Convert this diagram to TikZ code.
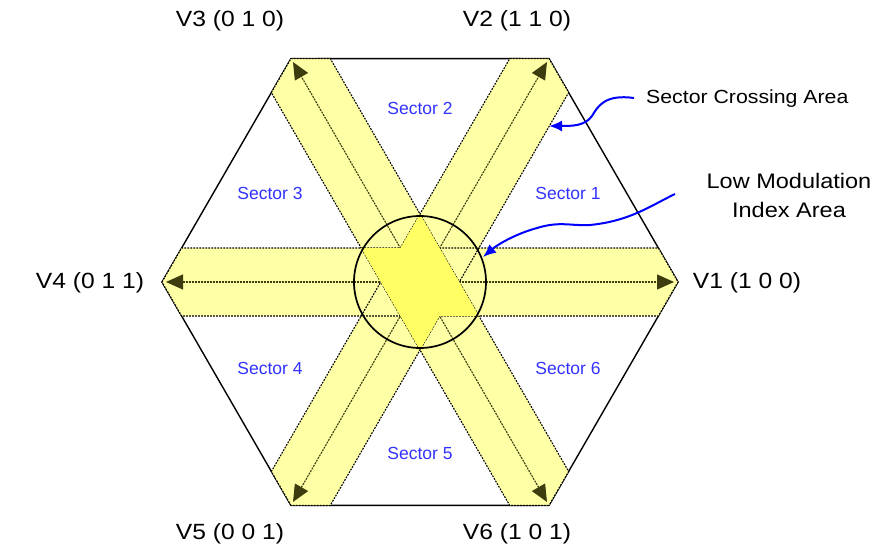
\documentclass[tikz,border=0pt]{standalone}
\usepackage{fontspec}
\setmainfont{Liberation Sans}[FakeStretch=1.12]
\newfontfamily\sectfont{Liberation Sans}
\usetikzlibrary{arrows.meta}
\definecolor{bandfill}{RGB}{255,255,165}
\definecolor{brightfill}{RGB}{255,255,100}
\definecolor{olivedark}{RGB}{60,60,15}
\definecolor{sectblue}{RGB}{50,50,255}
\tikzset{
  hexline/.style={draw=black,line width=1.4pt},
  bandface/.style={fill=bandfill,draw=none},
  bandedge/.style={draw=black,line width=1.1pt,dash pattern=on 1.8pt off 1.2pt},
  axisline/.style={draw=olivedark,line width=1.1pt,dash pattern=on 2pt off 1pt,
    {Triangle[length=17pt,width=15pt,fill=olivedark]}-{Triangle[length=17pt,width=15pt,fill=olivedark]}},
  vlabel/.style={font=\fontsize{22}{26}\selectfont,inner sep=0pt},
  sectlabel/.style={font=\sectfont\fontsize{17.5}{20}\selectfont,text=sectblue,inner sep=0pt},
  notelabel/.style={font=\fontsize{19}{23}\selectfont,inner sep=0pt},
  notelabelB/.style={font=\fontsize{21}{29}\selectfont,inner sep=0pt,align=center},
  bluearrow/.style={draw=blue,line width=2pt,-{Latex[length=13pt,width=11pt]}},
}
\begin{document}
\begin{tikzpicture}[x=1pt,y=-1pt]
\useasboundingbox (0,0) rectangle (876,552);
\coordinate (C) at (420,282);
% hexagon
\draw[hexline] (C) ++(0:258) -- ++(120:258) -- ++(180:258) -- ++(240:258) -- ++(300:258) -- ++(0:258) -- cycle;
% band fills
\foreach \a in {0,60,120}{
  \begin{scope}[shift={(420,282)},rotate=\a]
    \fill[bandface] (-258,0) -- (-238.4,-34) -- (238.4,-34) -- (258,0) -- (238.4,34) -- (-238.4,34) -- cycle;
  \end{scope}
}
% band outlines
\foreach \a in {0,60,120}{
  \begin{scope}[shift={(420,282)},rotate=\a]
    \draw[bandedge] (-258,0) -- (-238.4,-34) -- (238.4,-34) -- (258,0) -- (238.4,34) -- (-238.4,34) -- cycle;
  \end{scope}
}
% axis arrows
\foreach \a/\n in {0/A,60/B,120/D}{
  \begin{scope}[shift={(420,282)},rotate=\a]
    \coordinate (\n1) at (-254,0);
    \coordinate (\n2) at (254,0);
  \end{scope}
  \draw[axisline] (\n1) -- (\n2);
}
% low modulation area
\begin{scope}[shift={(420,282)}]
  \fill[brightfill] (0,-68) -- (58.9,34) -- (19.6,34) -- (0,68) -- (-58.9,-34) -- (-19.6,-34) -- cycle;
\end{scope}
\node[draw=black,line width=1.7pt,circle,minimum size=132pt,inner sep=0pt] (circ) at (C) {};
% vertex labels
\node[vlabel] (v1) at (747,283) {V1 (1 0 0)};
\node[vlabel] (v2) at (517,21) {V2 (1 1 0)};
\node[vlabel] (v3) at (230,21) {V3 (0 1 0)};
\node[vlabel] (v4) at (90,283) {V4 (0 1 1)};
\node[vlabel] (v5) at (230,534) {V5 (0 0 1)};
\node[vlabel] (v6) at (517,534) {V6 (1 0 1)};
% sector labels
\node[sectlabel] (s1) at (568,193) {Sector 1};
\node[sectlabel] (s2) at (420,108) {Sector 2};
\node[sectlabel] (s3) at (270,193) {Sector 3};
\node[sectlabel] (s4) at (270,368) {Sector 4};
\node[sectlabel] (s5) at (420,453) {Sector 5};
\node[sectlabel] (s6) at (568,368) {Sector 6};
% notes
\node[notelabel,anchor=west] (sca) at (646,99) {Sector Crossing Area};
\node[notelabelB] (lmi) at (789,195) {Low Modulation\\Index Area};
\coordinate (scaS) at (634,98);
\coordinate (scaT) at (549,126);
\coordinate (lmiS) at (675,194);
\coordinate (lmiT) at (483,257);
\draw[bluearrow] (scaS) .. controls (605,94) and (598,106) .. (592,116) .. controls (585,126) and (572,126) .. (scaT);
\draw[bluearrow] (lmiS) .. controls (650,206) and (630,221) .. (590,225) .. controls (570,226) and (560,221) .. (537,228) .. controls (515,234) and (497,245) .. (lmiT);
\end{tikzpicture}
\end{document}
